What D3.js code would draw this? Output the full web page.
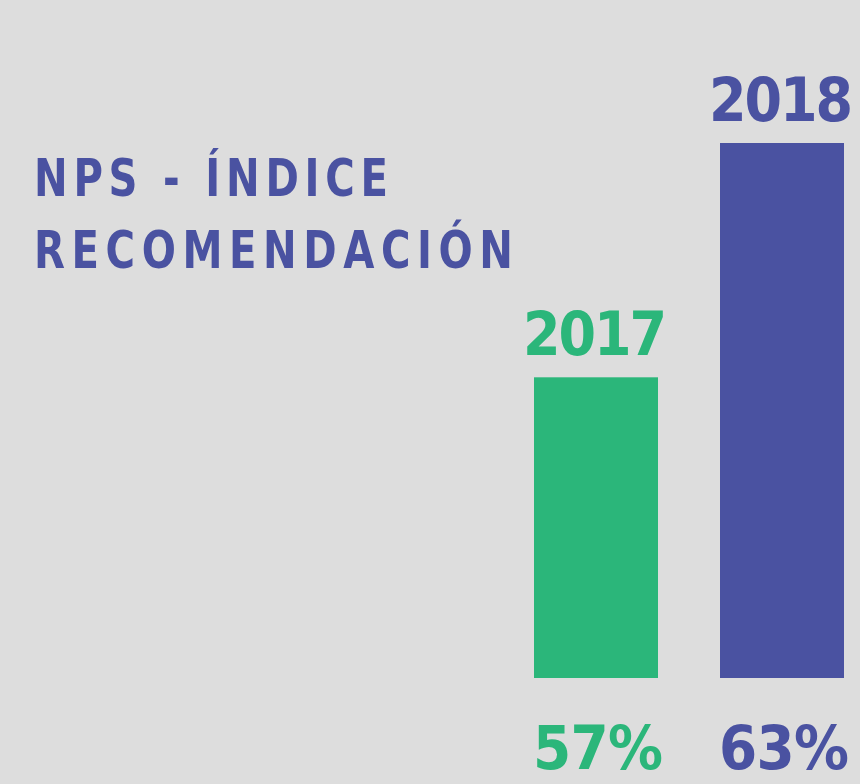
<!DOCTYPE html>
<html>
<head>
<meta charset="utf-8">
<script src="https://cdn.jsdelivr.net/npm/d3@7"></script>
<style>
  html, body { margin: 0; padding: 0; background: #dddddd; }
  svg { display: block; }
  text { font-family: "DejaVu Sans Condensed", "DejaVu Sans", sans-serif; font-weight: bold; }
</style>
</head>
<body>
<div id="chart"></div>
<script>
// NPS data
var years = ["2017", "2018"];
var values = [57, 63];
var valueLabels = ["57%", "63%"];
var colors = ["#2bb67a", "#4a52a1"];
var titleLines = ["NPS - ÍNDICE", "RECOMENDACIÓN"];

var width = 860, height = 784;
// the poster title font is narrower than dejavu, so squeeze the glyphs a bit
var squeeze = 0.86;

var svg = d3.select("#chart").append("svg")
  .attr("width", width)
  .attr("height", height);

svg.append("rect")
  .attr("width", width)
  .attr("height", height)
  .attr("fill", "#dddddd");

// bars only, no axes drawn. the y scale is cut off low like in the poster
var x = d3.scaleBand()
  .domain(years)
  .range([534, 844])
  .paddingInner(1 / 3)
  .paddingOuter(0);

var y = d3.scaleLinear()
  .domain([49.3, 63])
  .range([678, 143]);

var data = years.map(function(yr, i) {
  return { year: yr, value: values[i], label: valueLabels[i], color: colors[i] };
});

svg.selectAll("rect.bar")
  .data(data)
  .join("rect")
  .attr("class", "bar")
  .attr("x", d => x(d.year))
  .attr("width", x.bandwidth())
  .attr("y", d => y(d.value))
  .attr("height", d => y.range()[0] - y(d.value))
  .attr("fill", d => d.color);

// year on top of each bar
svg.selectAll("text.year")
  .data(data)
  .join("text")
  .attr("class", "year")
  .attr("x", d => x(d.year) + x.bandwidth() / 2 - 1)
  .attr("y", d => y(d.value) - 22)
  .attr("text-anchor", "middle")
  .attr("font-size", 60)
  .attr("textLength", 144)
  .attr("lengthAdjust", "spacing")
  .attr("fill", d => d.color)
  .text(d => d.year);

// percentages under the bars
svg.selectAll("text.pct")
  .data(data)
  .join("text")
  .attr("class", "pct")
  .attr("x", d => x(d.year) + x.bandwidth() / 2 + 2)
  .attr("y", 769)
  .attr("text-anchor", "middle")
  .attr("font-size", 61)
  .attr("textLength", 130)
  .attr("lengthAdjust", "spacing")
  .attr("fill", d => d.color)
  .text(d => d.label);

// title, spaced out + squeezed letters
var titleWidths = [354, 479];
svg.selectAll("text.title")
  .data(titleLines)
  .join("text")
  .attr("class", "title")
  .attr("transform", (d, i) => "translate(34," + (196 + i * 72) + ") scale(" + squeeze + ",1)")
  .attr("font-size", 52)
  .attr("textLength", (d, i) => titleWidths[i] / squeeze)
  .attr("lengthAdjust", "spacing")
  .attr("fill", colors[1])
  .text(d => d);
</script>
</body>
</html>
